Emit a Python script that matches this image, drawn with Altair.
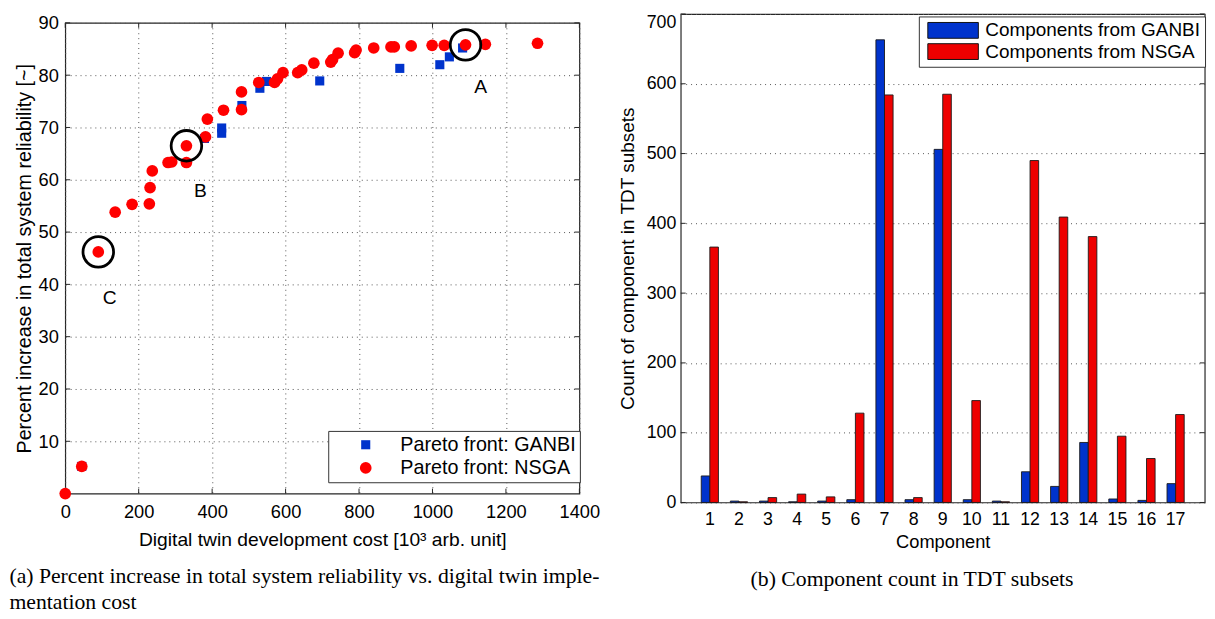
import altair as alt
import pandas as pd

# ---------------- Panel (a): Pareto fronts ----------------
series_a = ["Pareto front: GANBI", "Pareto front: NSGA"]
ganbi_cost = [45, 379, 426, 426, 481, 530, 548, 693, 911, 1020, 1046, 1082]
ganbi_rel = [5.2, 67.9, 69.9, 68.9, 74.2, 77.5, 78.8, 78.9, 81.3, 82.0, 83.5, 85.2]
nsga_cost = [0, 45, 90, 136, 182, 229, 231, 237, 280, 290,
             330, 330, 382, 387, 431, 480, 480, 527, 570, 578,
             593, 633, 644, 677, 723, 728, 743, 788, 792, 840,
             887, 896, 942, 999, 1032, 1090, 1144, 1286]
nsga_rel = [0, 5.2, 46.2, 53.8, 55.3, 55.4, 58.5, 61.7, 63.3, 63.4,
            63.3, 66.5, 68.2, 71.6, 73.3, 73.4, 76.8, 78.6, 78.6, 79.3,
            80.5, 80.5, 81.0, 82.3, 82.5, 83.0, 84.2, 84.3, 84.8, 85.2,
            85.4, 85.4, 85.6, 85.7, 85.7, 85.8, 85.9, 86.1]
x_ticks_a = [0, 200, 400, 600, 800, 1000, 1200, 1400]
y_ticks_a = [10, 20, 30, 40, 50, 60, 70, 80, 90]
mark_names = ["A", "B", "C"]
circle_cost = [1090, 330, 90]
circle_rel = [85.8, 66.5, 46.2]
name_cost = [1131, 368, 121]
name_rel = [77.7, 57.9, 37.3]
caption_a = ["(a) Percent increase in total system reliability vs.  digital twin imple-",
             "mentation cost"]

# ---------------- Panel (b): component counts ----------------
series_b = ["Components from GANBI", "Components from NSGA"]
components = list(range(1, 18))
ganbi_counts = [38, 2, 2, 1, 2, 4, 663, 4, 506, 4, 2, 44, 23, 86, 5, 3, 27]
nsga_counts = [366, 1, 7, 12, 8, 128, 584, 7, 585, 146, 1, 490, 409, 381, 95, 63, 126]
y_ticks_b = [0, 100, 200, 300, 400, 500, 600, 700]
caption_b = "(b) Component count in TDT subsets"

BLUE = "#0033cc"
SANS = "Liberation Sans"
SERIF = "Liberation Serif"
TICK = "#262626"
WL, HL = 521, 477
WR, HR = 531, 495
TL = 5  # inward tick length (px)

scatter_df = pd.DataFrame({
    "cost": ganbi_cost + nsga_cost,
    "rel": ganbi_rel + nsga_rel,
    "series": [series_a[0]] * len(ganbi_cost) + [series_a[1]] * len(nsga_cost),
})
circ_df = pd.DataFrame({"cost": circle_cost, "rel": circle_rel})
name_df = pd.DataFrame({"cost": name_cost, "rel": name_rel, "name": mark_names})
xt_a = pd.DataFrame({"cost": x_ticks_a})
yt_a = pd.DataFrame({"rel": y_ticks_a})

legend_a = dict(
    title=None, orient="none", legendX=266.5, legendY=413.5, direction="vertical",
    strokeColor="#333333", fillColor="white", padding=4,
    rowPadding=3.5, labelFont=SANS, labelFontSize=20, labelColor="black",
    symbolOffset=24, labelOffset=25, labelLimit=400, symbolStrokeWidth=0,
)

x_a = alt.X("cost:Q", scale=alt.Scale(domain=[0, 1400], nice=False),
            axis=alt.Axis(values=x_ticks_a, format="d", labelFlush=False,
                          title="Digital twin development cost [10³ arb. unit]",
                          labelFontSize=18.5, titleFontSize=19.5, labelPadding=9,
                          titlePadding=10, grid=True))
y_a = alt.Y("rel:Q", scale=alt.Scale(domain=[0, 90], nice=False),
            axis=alt.Axis(values=y_ticks_a, labelFlush=False,
                          title="Percent increase in total system reliability [~]",
                          labelFontSize=18.5, titleFontSize=20, labelPadding=7,
                          titlePadding=4, grid=True))

points = alt.Chart(scatter_df).mark_point(filled=True, opacity=1, strokeWidth=0).encode(
    x=x_a,
    y=y_a,
    color=alt.Color("series:N", scale=alt.Scale(domain=series_a, range=[BLUE, "#ff0000"]),
                    legend=alt.Legend(**legend_a)),
    shape=alt.Shape("series:N", scale=alt.Scale(domain=series_a, range=["square", "circle"]),
                    legend=alt.Legend(**legend_a)),
    size=alt.Size("series:N", scale=alt.Scale(domain=series_a, range=[85, 140]),
                  legend=alt.Legend(**legend_a)),
)

circles = alt.Chart(circ_df).mark_point(
    shape="circle", filled=False, size=960, strokeWidth=2.8, color="black", opacity=1
).encode(x="cost:Q", y="rel:Q")

names = alt.Chart(name_df).mark_text(
    font=SANS, fontSize=19.5, color="black"
).encode(x="cost:Q", y="rel:Q", text="name:N")

rule_a = dict(color=TICK, strokeWidth=1)
ticks_a = [
    alt.Chart(xt_a).mark_rule(**rule_a).encode(x="cost:Q", y=alt.value(HL), y2=alt.value(HL - TL)),
    alt.Chart(xt_a).mark_rule(**rule_a).encode(x="cost:Q", y=alt.value(0), y2=alt.value(TL)),
    alt.Chart(yt_a).mark_rule(**rule_a).encode(y="rel:Q", x=alt.value(0), x2=alt.value(TL)),
    alt.Chart(yt_a).mark_rule(**rule_a).encode(y="rel:Q", x=alt.value(WL), x2=alt.value(WL - TL)),
]

left = alt.layer(*ticks_a, points, circles, names).properties(
    width=WL, height=HL,
    title=alt.Title(caption_a, orient="bottom", anchor="start", font=SERIF, fontSize=22,
                    fontWeight="normal", color="black", lineHeight=25.7, offset=18, dx=-5),
)

bar_df = pd.DataFrame({
    "component": components * 2,
    "count": ganbi_counts + nsga_counts,
    "series": [series_b[0]] * len(components) + [series_b[1]] * len(components),
})
yt_b = pd.DataFrame({"count": y_ticks_b})

legend_b = alt.Legend(
    title=None, orient="none", legendX=241.3, legendY=2.5, direction="vertical",
    strokeColor="#333333", fillColor="white", padding=4.5, rowPadding=0.5,
    symbolType="M-3.2,-1H3.2V1H-3.2Z", symbolSize=256, symbolStrokeColor="#111111",
    symbolStrokeWidth=1, symbolOffset=20.6, labelOffset=23,
    labelFont=SANS, labelFontSize=19.2, labelColor="black", labelLimit=400,
)

x_b = alt.X("component:O", sort=components,
            scale=alt.Scale(paddingInner=0.41, paddingOuter=0.705),
            axis=alt.Axis(labelAngle=0, title="Component", labelFontSize=18, titleFontSize=18.5,
                          labelPadding=8, titlePadding=5, grid=False))
y_b = alt.Y("count:Q", scale=alt.Scale(domain=[0, 700], nice=False),
            axis=alt.Axis(values=y_ticks_b, labelFlush=False,
                          labelBaseline={"condition": {"test": "datum.value == 700", "value": "top"},
                                         "value": "middle"},
                          title="Count of component in TDT subsets",
                          labelFontSize=18, titleFontSize=19.2, labelPadding=5,
                          titlePadding=9, grid=True))

bars = alt.Chart(bar_df).mark_bar(stroke="#1a1a1a", strokeWidth=0.9, opacity=1).encode(
    x=x_b,
    xOffset=alt.XOffset("series:N", sort=series_b,
                        scale=alt.Scale(domain=series_b, paddingInner=0, paddingOuter=0)),
    y=y_b,
    color=alt.Color("series:N", scale=alt.Scale(domain=series_b, range=[BLUE, "#ee0000"]),
                    legend=legend_b),
)

ticks_b = [
    alt.Chart(yt_b).mark_rule(**rule_a).encode(y="count:Q", x=alt.value(0), x2=alt.value(TL)),
    alt.Chart(yt_b).mark_rule(**rule_a).encode(y="count:Q", x=alt.value(WR), x2=alt.value(WR - TL)),
]

right = alt.layer(bars, *ticks_b).properties(
    width=WR, height=HR,
    title=alt.Title(caption_b, orient="bottom", anchor="middle", frame="bounds", font=SERIF,
                    fontSize=22, fontWeight="normal", color="black", offset=18),
)

chart = alt.hconcat(left, right, spacing=102.7, bounds="flush", center=True).properties(
    padding={"left": 0, "top": 0, "right": 0, "bottom": 0},
    background="white",
).configure_view(
    stroke="#262626", strokeWidth=1.2,
).configure_axis(
    domain=False, ticks=False, labelFont=SANS, titleFont=SANS, labelColor="black",
    titleColor="black", titleFontWeight="normal", gridColor="#555555", gridDash=[1, 4],
    gridOpacity=1, gridWidth=1,
).configure_legend(
    strokeWidth=1,
).resolve_scale(color="independent", shape="independent", size="independent")

chart.save("out.html", embed_options={"renderer": "svg", "actions": False})
